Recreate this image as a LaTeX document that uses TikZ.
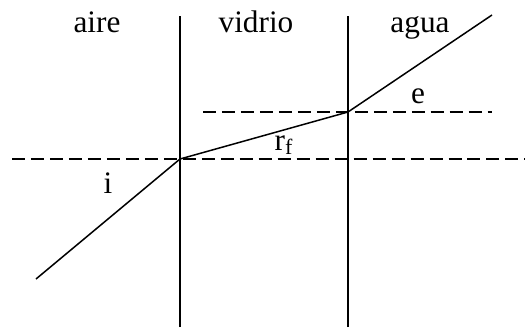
\documentclass[tikz,border=0pt]{standalone}
\usepackage{fontspec}
\setmainfont{Liberation Serif}
\usetikzlibrary{positioning}
\tikzset{normal/.style={dash pattern=on 7.4pt off 3.4pt}}

\begin{document}
\begin{tikzpicture}[line width=0.85pt,font=\fontsize{17.8}{20}\selectfont]
  \useasboundingbox (0,0) rectangle (10.5,6.54);
  % interfaces
  \coordinate (b1) at (3.6,0);    \coordinate (t1) at (3.6,6.22);
  \coordinate (b2) at (6.96,0);   \coordinate (t2) at (6.96,6.22);
  \draw (b1) -- (t1);
  \draw (b2) -- (t2);
  % ray
  \coordinate (start) at (0.72,0.96);
  \coordinate (p1) at (3.6,3.36);
  \coordinate (p2) at (6.96,4.30);
  \coordinate (end) at (9.84,6.24);
  \draw (start) -- (p1) -- (p2) -- (end);
  % normals
  \coordinate (n1l) at (0.24,3.36); \coordinate (n1r) at (10.5,3.36);
  \coordinate (n2l) at (4.06,4.30); \coordinate (n2r) at (9.84,4.30);
  \draw[normal] (n1l) -- (n1r);
  \draw[normal] (n2l) -- (n2r);
  % media
  \foreach \x/\name/\lbl in {1.94/aire/aire, 5.12/vidrio/vidrio, 8.40/agua/agua}{
    \node[anchor=base,inner sep=0pt] (\name) at (\x,5.90) {\lbl};
  }
  % angles
  \node[anchor=base,inner sep=0pt] (i) at (2.16,2.68) {i};
  \node[anchor=base,inner sep=0pt] (rf) at (5.68,3.54) {r\textsubscript{f}};
  \node[anchor=base,inner sep=0pt] (e) at (8.36,4.48) {e};
\end{tikzpicture}
\end{document}
